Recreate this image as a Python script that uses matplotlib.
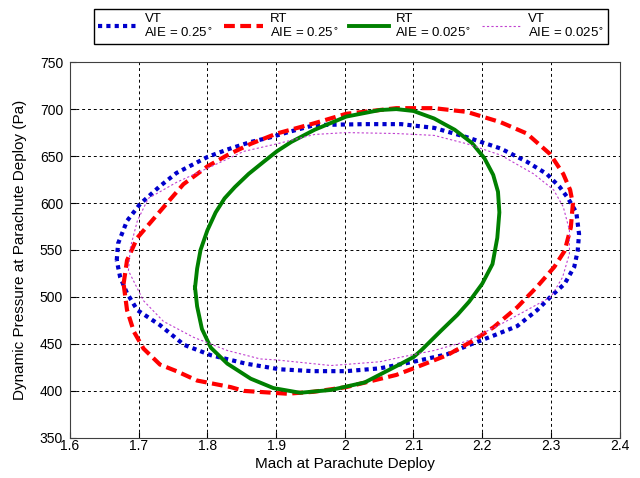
import numpy as np
import matplotlib
matplotlib.use('Agg')
from matplotlib import pyplot as plt

plt.rcParams['font.family'] = ['Liberation Sans', 'DejaVu Sans']

# VT, AIE = 0.25 deg
vt25_mach = [1.668, 1.670, 1.683, 1.702, 1.731, 1.755, 1.800, 1.829, 1.863, 1.892,
             1.920, 1.956, 2.029, 2.082, 2.130, 2.178, 2.227, 2.265, 2.294, 2.313,
             2.325, 2.337, 2.341, 2.339, 2.334, 2.320, 2.302, 2.280, 2.251, 2.217,
             2.178, 2.149, 2.100, 2.051, 2.002, 1.954, 1.905, 1.856, 1.805, 1.766,
             1.731, 1.698, 1.683, 1.673, 1.668]
vt25_q = [539, 557, 581, 599, 618, 632, 649, 657, 665, 670,
          676, 683, 684, 684, 680, 670, 658, 644, 631, 617,
          605, 590, 567, 549, 532, 514, 502, 486, 469, 459,
          448, 439, 431, 424, 421, 421, 423, 429, 438, 449,
          470, 486, 504, 521, 539]

# RT, AIE = 0.25 deg
rt25_mach = [1.678, 1.683, 1.698, 1.732, 1.765, 1.800, 1.829, 1.863, 1.901, 1.956,
             2.002, 2.075, 2.130, 2.178, 2.227, 2.265, 2.299, 2.318, 2.328, 2.332,
             2.329, 2.320, 2.305, 2.280, 2.251, 2.217, 2.188, 2.149, 2.100, 2.075,
             2.002, 1.954, 1.916, 1.853, 1.834, 1.785, 1.755, 1.731, 1.707, 1.693,
             1.683, 1.678]
rt25_q = [514, 539, 563, 592, 620, 639, 651, 663, 674, 685,
          695, 701, 701, 697, 686, 674, 652, 631, 614, 599,
          574, 549, 532, 511, 489, 468, 454, 438, 424, 417,
          404, 399, 397, 400, 404, 411, 421, 428, 445, 463,
          486, 514]

# RT, AIE = 0.025 deg
rt025_mach = [1.782, 1.785, 1.790, 1.800, 1.812, 1.825, 1.840, 1.860, 1.882, 1.901,
              1.922, 1.956, 2.002, 2.051, 2.075, 2.100, 2.130, 2.160, 2.185, 2.203,
              2.216, 2.223, 2.225, 2.222, 2.215, 2.200, 2.181, 2.164, 2.140, 2.111,
              2.100, 2.082, 2.029, 1.980, 1.935, 1.896, 1.863, 1.829, 1.805, 1.792,
              1.785, 1.782]
rt025_q = [510, 530, 550, 571, 590, 605, 617, 631, 644, 655,
           665, 678, 692, 699, 700, 698, 690, 678, 664, 648,
           630, 612, 590, 563, 535, 514, 495, 481, 464, 443,
           436, 429, 409, 401, 398, 403, 413, 429, 446, 466,
           490, 510]

# VT, AIE = 0.025 deg
vt025_mach = [1.685, 1.688, 1.698, 1.714, 1.755, 1.800, 1.853, 1.901, 1.956, 2.002,
              2.075, 2.130, 2.178, 2.227, 2.275, 2.304, 2.318, 2.327, 2.327, 2.317,
              2.300, 2.265, 2.227, 2.178, 2.130, 2.082, 2.051, 1.980, 1.900, 1.877,
              1.829, 1.780, 1.736, 1.707, 1.685]
vt025_q = [528, 553, 581, 605, 622, 637, 655, 663, 673, 675,
           674, 672, 663, 651, 631, 614, 596, 571, 546, 521,
           500, 486, 471, 453, 443, 436, 431, 427, 433, 434,
           443, 457, 474, 496, 528]

fig = plt.figure(figsize=(6.4, 4.78), dpi=100)
ax = fig.add_axes([0.1094, 0.084, 0.8587, 0.786])

ax.plot(vt25_mach, vt25_q, color='#0000CC', lw=3, ls=(0, (1, 1)),
        label='VT\nAIE = 0.25$^{\\circ}$')
ax.plot(rt25_mach, rt25_q, color='#FF0000', lw=3, ls=(0, (2.6, 1.3)),
        label='RT\nAIE = 0.25$^{\\circ}$')
ax.plot(rt025_mach, rt025_q, color='#008000', lw=2.8, ls='-',
        label='RT\nAIE = 0.025$^{\\circ}$')
ax.plot(vt025_mach, vt025_q, color='#C040D0', lw=0.8, ls=(0, (2, 2)),
        label='VT\nAIE = 0.025$^{\\circ}$')

ax.set_xlim(1.6, 2.4)
ax.set_ylim(350, 750)
ax.set_xticks(np.arange(1.6, 2.41, 0.1))
ax.set_xticklabels(['1.6', '1.7', '1.8', '1.9', '2', '2.1', '2.2', '2.3', '2.4'])
ax.set_yticks(np.arange(350, 751, 50))
ax.tick_params(direction='in', labelsize=10, length=4)
ax.tick_params(axis='x', pad=1)
ax.tick_params(axis='y', pad=5)
ax.grid(True, color='black', ls=(0, (3, 3)), lw=0.7)
for s in ax.spines.values():
    s.set_color('#404040')

ax.set_xlabel('Mach at Parachute Deploy', fontsize=11, labelpad=3)
ax.set_ylabel('Dynamic Pressure at Parachute Deploy (Pa)', fontsize=11, labelpad=9)

leg = fig.legend(loc='upper center', bbox_to_anchor=(0.549, 0.995), ncol=4,
                 fontsize=9.5, fancybox=False, framealpha=1, edgecolor='black',
                 handlelength=3.0, columnspacing=0.8, handletextpad=0.5,
                 borderpad=0.3)
leg.get_frame().set_linewidth(1.0)

fig.savefig('out.png', dpi=100)
